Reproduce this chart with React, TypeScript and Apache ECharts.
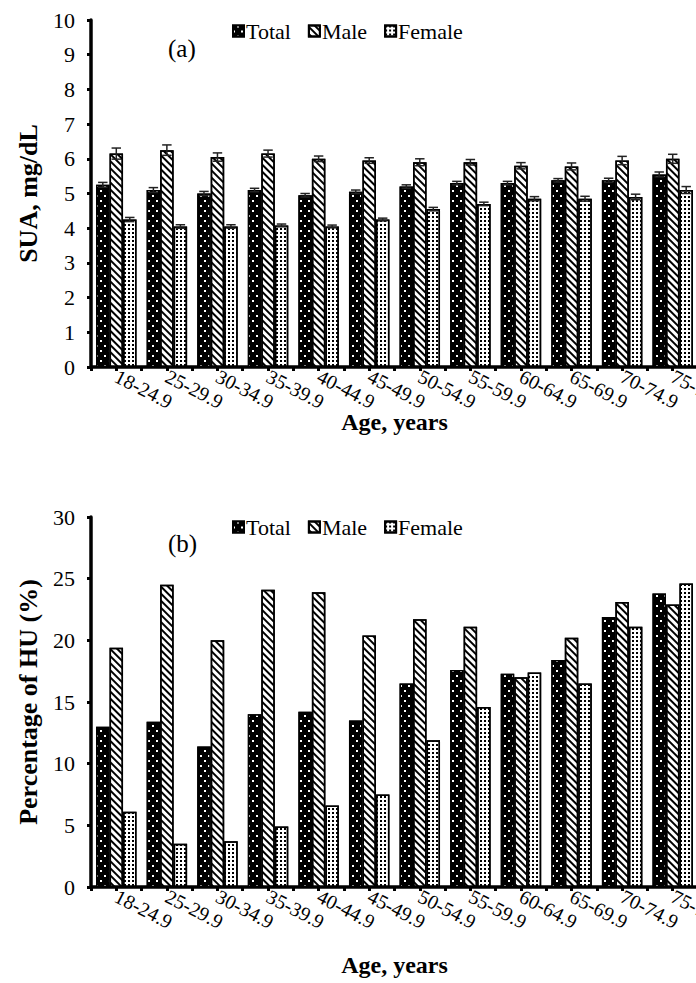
import React, { useEffect, useRef } from "react";
import * as echarts from "echarts";

const categories = ["18-24.9", "25-29.9", "30-34.9", "35-39.9", "40-44.9", "45-49.9", "50-54.9", "55-59.9", "60-64.9", "65-69.9", "70-74.9", "75-79.9"];
const seriesNames = ["Total", "Male", "Female"];

const suaTotal = [5.25, 5.1, 5.0, 5.1, 4.95, 5.05, 5.2, 5.3, 5.3, 5.38, 5.38, 5.55];
const suaMale = [6.15, 6.25, 6.05, 6.15, 6.0, 5.95, 5.9, 5.9, 5.8, 5.78, 5.95, 6.0];
const suaFemale = [4.25, 4.05, 4.05, 4.08, 4.05, 4.25, 4.55, 4.7, 4.85, 4.85, 4.9, 5.1];
const suaTotalErr = [0.07, 0.07, 0.06, 0.05, 0.05, 0.05, 0.05, 0.05, 0.05, 0.05, 0.06, 0.07];
const suaMaleErr = [0.16, 0.15, 0.12, 0.1, 0.08, 0.08, 0.1, 0.08, 0.09, 0.1, 0.12, 0.13];
const suaFemaleErr = [0.06, 0.05, 0.05, 0.04, 0.04, 0.04, 0.05, 0.05, 0.06, 0.07, 0.08, 0.1];

const huTotal = [13.0, 13.4, 11.4, 14.0, 14.2, 13.5, 16.5, 17.6, 17.3, 18.4, 21.9, 23.8];
const huMale = [19.4, 24.5, 20.0, 24.1, 23.9, 20.4, 21.7, 21.1, 17.0, 20.2, 23.1, 22.9];
const huFemale = [6.1, 3.5, 3.7, 4.9, 6.6, 7.5, 11.9, 14.6, 17.4, 16.5, 21.1, 24.6];

const suaTicks = { min: 0, max: 10, interval: 1 };
const huTicks = { min: 0, max: 30, interval: 5 };

const FONT = "'Liberation Serif', 'Times New Roman', serif";

const decals: any[] = [
  {
    symbol: "rect",
    symbolSize: 1,
    color: "#ffffff",
    dashArrayX: [[2, 6], [0, 4, 2, 2]],
    dashArrayY: [2, 3],
    rotation: 0,
  },
  {
    symbol: "rect",
    symbolSize: 1,
    color: "#000000",
    dashArrayX: [1, 0],
    dashArrayY: [1.6, 2.2],
    rotation: Math.PI / 4,
  },
  {
    symbol: "rect",
    symbolSize: 1,
    color: "#000000",
    dashArrayX: [1.6, 1.6],
    dashArrayY: [1.6, 1.6],
    rotation: 0,
  },
];
const baseColors = ["#000000", "#ffffff", "#ffffff"];

const BAR_GAP_RATIO = 0.2;

export default function App() {
  const ref = useRef<HTMLDivElement>(null);
  useEffect(() => {
    if (!ref.current) return;
    const chart = echarts.init(ref.current, undefined, { renderer: "svg" });

    const halfCats = Array.from({ length: categories.length * 2 }, () => "");

    const makeX = (gridIndex: number) => [
      {
        type: "category",
        gridIndex,
        position: "bottom",
        data: categories,
        axisLine: { show: true, lineStyle: { color: "#000", width: 3.5 } },
        axisTick: { show: false },
        axisLabel: {
          interval: 0,
          rotate: -27,
          margin: 8,
          fontFamily: FONT,
          fontSize: 20,
          color: "#000",
        },
        name: "Age, years",
        nameLocation: "middle",
        nameMoveOverlap: false,
        nameGap: gridIndex === 0 ? 43 : 66,
        nameTextStyle: { fontFamily: FONT, fontSize: 24, fontWeight: "bold", color: "#000", verticalAlign: "top" },
      },
      {
        type: "category",
        gridIndex,
        position: "bottom",
        data: halfCats,
        axisLine: { show: false },
        axisTick: { show: true, length: 4, lineStyle: { color: "#000", width: 3 } },
        axisLabel: { show: false },
        splitLine: { show: false },
      },
    ];

    const makeY = (gridIndex: number, ticks: any, name: string) => ({
      type: "value",
      gridIndex,
      min: ticks.min,
      max: ticks.max,
      interval: ticks.interval,
      splitLine: { show: false },
      axisLine: { show: true, lineStyle: { color: "#000", width: 3.5 } },
      axisTick: { show: true, length: 4, lineStyle: { color: "#000", width: 3 } },
      axisLabel: { fontFamily: FONT, fontSize: 22, color: "#000", margin: 16 },
      name,
      nameLocation: "middle",
      nameMoveOverlap: false,
      nameGap: 50,
      nameTextStyle: { fontFamily: FONT, fontSize: 26, fontWeight: "bold", color: "#000" },
    });

    const barSeries = (gridIndex: number, arrays: number[][]) =>
      arrays.map((arr, i) => ({
        type: "bar",
        name: seriesNames[i],
        xAxisIndex: gridIndex * 2,
        yAxisIndex: gridIndex,
        data: arr,
        barGap: "0%",
        barCategoryGap: BAR_GAP_RATIO * 100 + "%",
        itemStyle: {
          color: baseColors[i],
          borderColor: "#000",
          borderWidth: 1.5,
          decal: decals[i],
        },
      }));

    const errData: any[] = [];
    [suaTotal, suaMale, suaFemale].forEach((arr, s) => {
      const errs = [suaTotalErr, suaMaleErr, suaFemaleErr][s];
      arr.forEach((v, i) => errData.push([i, v, errs[i], s]));
    });

    const errorSeries = {
      type: "custom",
      xAxisIndex: 0,
      yAxisIndex: 0,
      z: 10,
      silent: true,
      itemStyle: { decal: "none" },
      encode: { x: 0, y: 1 },
      data: errData,
      renderItem: (params: any, api: any) => {
        const idx = api.value(0);
        const v = api.value(1);
        const e = api.value(2);
        const s = api.value(3);
        const band = api.size([1, 0])[0];
        const barW = (band * (1 - BAR_GAP_RATIO)) / 3;
        const off = (s - 1) * barW;
        const top = api.coord([idx, v + e]);
        const bot = api.coord([idx, v - e]);
        const x = top[0] + off;
        const cap = barW * 0.35;
        const style = { stroke: "#222", lineWidth: 1.5 };
        return {
          type: "group",
          children: [
            { type: "line", shape: { x1: x, y1: top[1], x2: x, y2: bot[1] }, style },
            { type: "line", shape: { x1: x - cap, y1: top[1], x2: x + cap, y2: top[1] }, style },
            { type: "line", shape: { x1: x - cap, y1: bot[1], x2: x + cap, y2: bot[1] }, style },
          ],
        };
      },
    };

    const legendCommon = {
      icon: "rect",
      itemWidth: 11,
      itemHeight: 11,
      itemGap: 17,
      textStyle: { fontFamily: FONT, fontSize: 22, color: "#000", padding: [0, 0, 0, -3] },
      data: seriesNames,
      selectedMode: false,
    };

    const option: any = {
      animation: false,
      aria: { enabled: true, decal: { show: true } },
      backgroundColor: "#fff",
      legend: [
        { ...legendCommon, left: 227, top: 15 },
        { ...legendCommon, left: 227, top: 511 },
      ],
      grid: [
        { left: 91, top: 20, width: 607, height: 347, outerBoundsMode: "none", containLabel: false },
        { left: 91, top: 517, width: 607, height: 370, outerBoundsMode: "none", containLabel: false },
      ],
      xAxis: [...makeX(0), ...makeX(1)],
      yAxis: [makeY(0, suaTicks, "SUA, mg/dL"), makeY(1, huTicks, "Percentage of HU (%)")],
      series: [
        ...barSeries(0, [suaTotal, suaMale, suaFemale]),
        ...barSeries(1, [huTotal, huMale, huFemale]),
        errorSeries,
      ],
      graphic: [
        { type: "text", left: 168, top: 36, style: { text: "(a)", fontFamily: FONT, fontSize: 25, fill: "#000" } },
        { type: "text", left: 168, top: 531, style: { text: "(b)", fontFamily: FONT, fontSize: 25, fill: "#000" } },
      ],
    };
    chart.setOption(option);
    return () => chart.dispose();
  }, []);

  return (
    <div style={{ position: "absolute", left: 0, top: 0, width: 696, height: 983, overflow: "hidden", background: "#fff" }}>
      <div ref={ref} style={{ width: 696, height: 983 }} />
    </div>
  );
}
